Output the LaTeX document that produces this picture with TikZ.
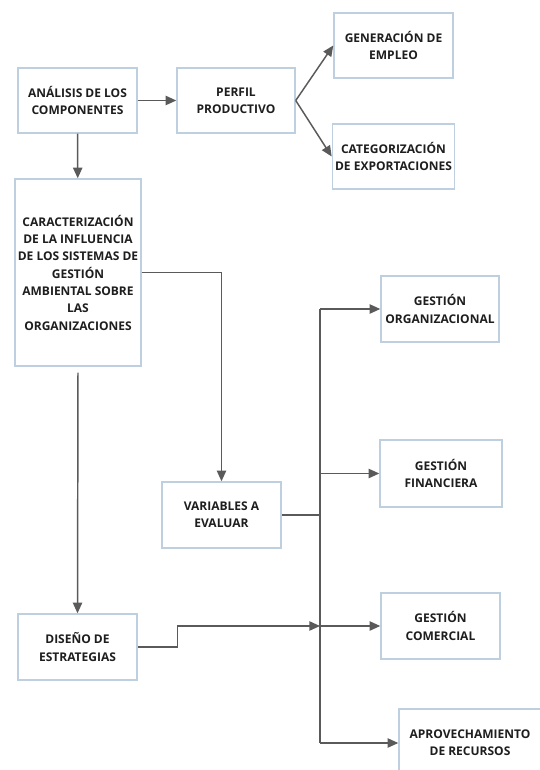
\documentclass[tikz,border=0pt]{standalone}
\usepackage{fontspec}
\setmainfont{Open Sans}
\usetikzlibrary{arrows.meta,positioning}
\definecolor{boxline}{RGB}{190,207,224}
\definecolor{conn}{RGB}{90,90,90}
\definecolor{txt}{RGB}{30,30,30}
\begin{document}
\begin{tikzpicture}[x=0.75pt,y=-0.75pt,
  box/.style={draw=boxline,line width=1.1pt,fill=white,align=center,inner sep=2pt,
    font=\fontsize{9}{13}\selectfont\bfseries,text=txt},
  conline/.style={draw=conn,line width=1.1pt},
  arr/.style={conline,-{Triangle[length=8pt,width=7pt]}}]
\useasboundingbox (0,0) rectangle (539,770);
\node[box,minimum width=89.25pt,minimum height=48.75pt] (A) at (77.5,100.5) {ANÁLISIS DE LOS\\COMPONENTES};
\node[box,minimum width=88.5pt,minimum height=48.75pt] (P) at (236,100.5) {PERFIL\\PRODUCTIVO};
\node[box,minimum width=89.25pt,minimum height=48.75pt] (G) at (393.5,45.5) {GENERACIÓN DE\\EMPLEO};
\node[box,minimum width=89.25pt,minimum height=48.75pt] (C) at (393.5,156.5) {CATEGORIZACIÓN\\DE EXPORTACIONES};
\node[box,minimum width=93pt,minimum height=140.25pt] (K) at (78,272.5) {CARACTERIZACIÓN\\DE LA INFLUENCIA\\DE LOS SISTEMAS DE\\GESTIÓN\\AMBIENTAL SOBRE\\LAS\\ORGANIZACIONES};
\node[box,minimum width=88.5pt,minimum height=49.5pt] (O) at (440,309) {GESTIÓN\\ORGANIZACIONAL};
\node[box,minimum width=89.25pt,minimum height=49.5pt] (V) at (221.5,515) {VARIABLES A\\EVALUAR};
\node[box,minimum width=91.5pt,minimum height=50.25pt] (F) at (441,473.5) {GESTIÓN\\FINANCIERA};
\node[box,minimum width=89.25pt,minimum height=49.5pt] (D) at (77.5,647) {DISEÑO DE\\ESTRATEGIAS};
\node[box,minimum width=89.25pt,minimum height=49.5pt] (M) at (440.5,626) {GESTIÓN\\COMERCIAL};
\node[box,minimum width=106.5pt,minimum height=51pt] (R) at (470,743) {APROVECHAMIENTO\\DE RECURSOS};
\coordinate (bt) at (320,309);
\coordinate (bb) at (320,743);
\draw[arr] (A) -- (P);
\draw[arr] (P.east) -- (G.west);
\draw[arr] (P.east) -- (C.west);
\draw[arr] (A) -- (K);
\draw[arr] (K.east) -| (V.north);
\draw[arr,shorten <=4.5pt] (K.south) -- (D.north);
\draw[conline] (bt) -- (bb);
\draw[conline,line width=1.6pt] (V.east) -- (V.east -| bt);
\draw[arr] (bt) -- (O.west);
\draw[arr] (F.west -| bt) -- (F.west);
\draw[arr] (M.west -| bt) -- (M.west);
\draw[arr] (bb) -- (R.west);
\draw[arr] (D.east) -- ++(40,0) |- (bt |- M.west);
\end{tikzpicture}
\end{document}
